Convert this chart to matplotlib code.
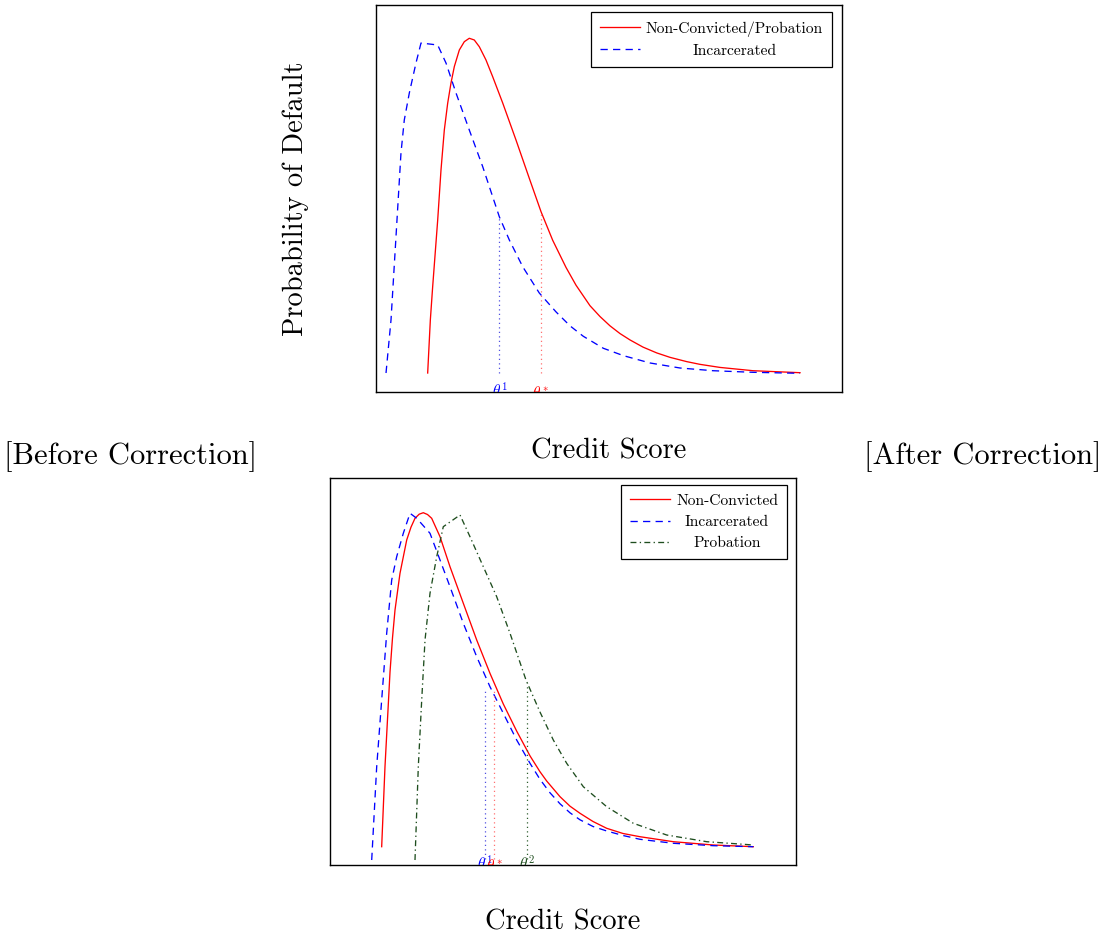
import numpy as np
import matplotlib
matplotlib.use("Agg")
import matplotlib.pyplot as plt

plt.rcParams['font.family'] = 'serif'
plt.rcParams['font.serif'] = ['cmr10']
plt.rcParams['mathtext.fontset'] = 'cm'
plt.rcParams['axes.formatter.use_mathtext'] = True

# ---------------- data: top panel (before correction) ----------------
top_red_x = [11.09, 11.66, 12.16, 13.24, 13.95, 14.66, 15.38, 16.09, 16.81, 17.88, 18.95, 20.02,
             21.09, 22.17, 23.60, 25.04, 27.19, 30.04, 32.90, 35.41, 37.92, 40.77, 42.92, 45.92,
             48.07, 50.21, 52.36, 54.51, 57.30, 60.24, 63.10, 66.67, 69.50, 73.82, 80.90, 90.99]
top_red_y = [4.91, 18.60, 27.20, 44.44, 57.40, 67.70, 74.60, 79.84, 84.10, 88.37, 90.52, 91.40,
             90.96, 89.22, 85.80, 81.47, 74.68, 65.12, 55.20, 46.60, 39.20, 32.20, 27.60, 22.30,
             19.50, 17.10, 15.10, 13.45, 11.60, 10.10, 8.95, 7.85, 7.15, 6.35, 5.50, 4.99]
top_blue_x = [2.15, 3.22, 4.29, 5.36, 6.07, 7.15, 8.58, 9.66, 13.24, 15.02, 17.17, 20.02, 22.90,
              26.46, 28.61, 31.48, 35.04, 38.63, 41.63, 44.48, 48.78, 53.07, 58.80, 65.24, 72.32,
              80.90, 90.99]
top_blue_y = [4.91, 18.60, 40.13, 61.76, 70.28, 77.26, 85.01, 90.18, 89.66, 85.01, 77.26, 67.70,
              58.22, 45.30, 39.28, 32.38, 25.58, 20.70, 17.10, 14.40, 11.30, 9.40, 7.50, 6.20,
              5.50, 5.09, 4.83]
top_labels = ['Non-Convicted/Probation', 'Incarcerated']
top_theta = [26.46, 35.41]
top_theta_top = [45.3, 46.3]
top_theta_base = 4.9
top_theta_text = [r'$\theta^1$', r'$\theta^*$']

# ---------------- data: bottom panel (after correction) ----------------
bot_red_x = [11.09, 11.80, 12.88, 13.41, 13.95, 15.02, 16.46, 17.38, 18.24, 19.14, 20.02, 20.92,
             21.82, 23.61, 25.75, 28.61, 31.48, 34.33, 37.19, 40.06, 42.92, 45.06, 46.50, 49.36,
             51.50, 53.65, 56.44, 59.38, 62.88, 66.52, 73.67, 82.25, 90.84]
bot_red_y = [4.73, 25.40, 49.90, 58.66, 65.89, 75.37, 83.98, 87.30, 89.59, 90.65, 91.03, 90.57,
             89.59, 84.83, 77.08, 67.62, 58.14, 49.53, 41.60, 34.60, 28.20, 24.10, 21.70, 17.65,
             15.20, 13.36, 11.24, 9.48, 8.14, 7.31, 6.02, 5.17, 4.73]
bot_blue_x = [8.95, 10.02, 11.09, 12.17, 13.24, 14.31, 15.73, 17.17, 18.61, 21.46, 23.61, 25.75,
              28.61, 31.48, 34.33, 37.19, 40.06, 42.92, 45.06, 47.21, 49.36, 51.50, 53.65, 56.44,
              59.38, 62.88, 66.52, 73.67, 82.25, 90.84]
bot_blue_y = [1.29, 25.40, 42.64, 59.95, 73.64, 79.66, 85.71, 90.88, 89.59, 85.71, 78.81, 71.91,
              62.45, 53.82, 46.07, 39.20, 32.30, 26.28, 22.14, 18.66, 15.81, 13.49, 11.68, 9.95,
              8.79, 7.62, 6.64, 5.61, 4.99, 4.73]
bot_green_x = [18.24, 18.95, 19.68, 20.39, 21.46, 22.90, 24.31, 27.90, 30.04, 32.90, 35.77, 38.63,
               42.06, 45.06, 47.92, 50.79, 54.36, 59.38, 65.09, 72.25, 80.84, 90.84]
bot_green_y = [1.29, 25.40, 42.64, 58.14, 70.21, 79.66, 87.42, 90.44, 84.83, 77.08, 69.33, 59.87,
               47.80, 39.53, 32.30, 26.28, 20.23, 15.06, 10.78, 7.75, 6.02, 5.17]
bot_labels = ['Non-Convicted', 'Incarcerated', 'Probation']
bot_theta = [33.26, 35.26, 42.21]
bot_theta_top = [45.2, 45.0, 46.9]
bot_theta_base = 1.5
bot_theta_text = [r'$\theta^1$', r'$\theta^*$', r'$\theta^2$']

RED = '#ff0000'
BLUE = '#0000ff'
GREEN = '#1e4d1e'
RED_DOT = '#ff7070'
BLUE_DOT = '#5050e0'
GREEN_DOT = '#2e5e2e'

W, H = 1105, 938
fig = plt.figure(figsize=(W / 100, H / 100), dpi=100)


def px_axes(left, top, width, height):
    return fig.add_axes([left / W, 1 - (top + height) / H, width / W, height / H])


ax1 = px_axes(376, 5, 466, 387)
ax2 = px_axes(330, 478, 466, 387)

LW = 0.95
dash = (0, (5.5, 4.0))
dashdot = (0, (4.5, 2.5, 1.0, 2.5))
dotted = (0, (1.0, 2.6))

# top panel
ax1.plot(top_red_x, top_red_y, color=RED, lw=LW, label=top_labels[0])
ax1.plot(top_blue_x, top_blue_y, color=BLUE, lw=LW, ls=dash, label=top_labels[1])
for th, yt, col in zip(top_theta, top_theta_top, [BLUE_DOT, RED_DOT]):
    ax1.plot([th, th], [top_theta_base, yt], color=col, lw=0.9, ls=dotted)
for th, col, txt in zip(top_theta, [BLUE, RED], top_theta_text):
    ax1.text(th, -1.3, txt, color=col, fontsize=11, ha='center', va='baseline', clip_on=True)

# bottom panel
ax2.plot(bot_red_x, bot_red_y, color=RED, lw=LW, label=bot_labels[0])
ax2.plot(bot_blue_x, bot_blue_y, color=BLUE, lw=LW, ls=dash, label=bot_labels[1])
ax2.plot(bot_green_x, bot_green_y, color=GREEN, lw=LW, ls=dashdot, label=bot_labels[2])
for th, yt, col in zip(bot_theta, bot_theta_top, [BLUE_DOT, RED_DOT, GREEN_DOT]):
    ax2.plot([th, th], [bot_theta_base, yt], color=col, lw=0.9, ls=dotted)
for th, col, txt in zip(bot_theta, [BLUE, RED, GREEN], bot_theta_text):
    ax2.text(th, -1.3, txt, color=col, fontsize=11, ha='center', va='baseline', clip_on=True)

for ax in (ax1, ax2):
    ax.set_xlim(0, 100)
    ax.set_ylim(0, 100)
    ax.set_xticks([])
    ax.set_yticks([])
    for s in ax.spines.values():
        s.set_linewidth(1.0)
        s.set_color('black')

legkw = dict(loc='upper right', borderaxespad=0, fancybox=False, framealpha=1,
             edgecolor='black', fontsize=11.2, handlelength=2.57, handletextpad=0.4,
             borderpad=0.58, labelspacing=0.46)
leg1 = ax1.legend(bbox_to_anchor=((832 - 376) / 466, (392 - 12) / 387), **legkw)
leg2 = ax2.legend(bbox_to_anchor=((787 - 330) / 466, (865 - 485) / 387), **legkw)
for leg in (leg1, leg2):
    leg.get_frame().set_linewidth(0.9)

ax1.set_xlabel('Credit Score', fontsize=20.5, labelpad=33)
ax1.set_ylabel('Probability of Default', fontsize=20.5, labelpad=48.5)
ax2.set_xlabel('Credit Score', fontsize=20.5, labelpad=32)

fig.text(131 / W, 1 - 457 / H, '[Before Correction]', fontsize=22, ha='center', va='center')
fig.text(983 / W, 1 - 457 / H, '[After Correction]', fontsize=22, ha='center', va='center')

# centre legend texts within their column (as in the original)
fig.canvas.draw()
renderer = fig.canvas.get_renderer()
for leg in (leg1, leg2):
    texts = leg.get_texts()
    widths = [t.get_window_extent(renderer).width for t in texts]
    mw = max(widths)
    for t, w in zip(texts, widths):
        t.set_x((mw - w) / 2)

fig.savefig('out.png', dpi=100)
